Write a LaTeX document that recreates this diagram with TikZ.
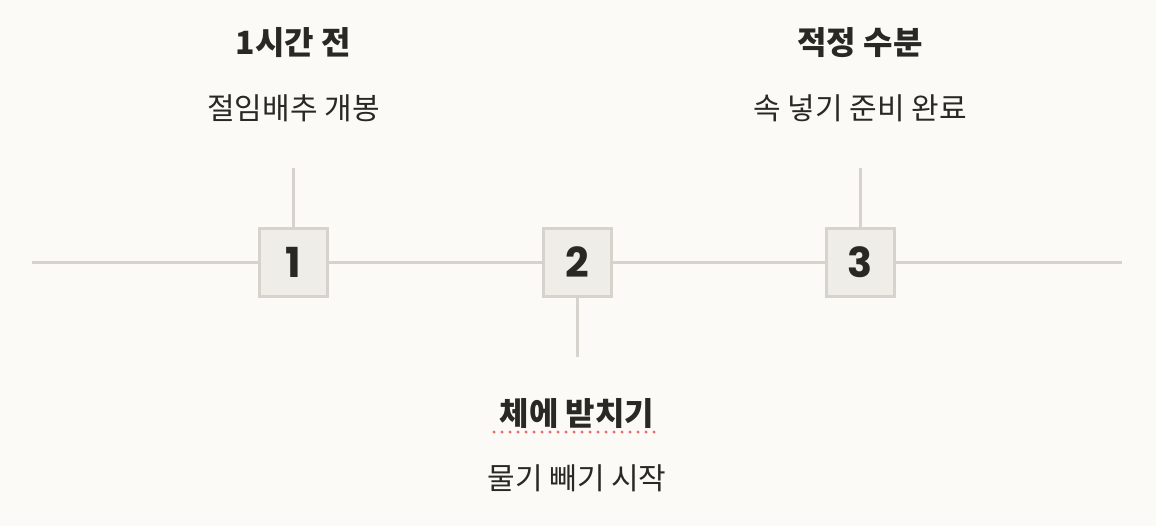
\documentclass[tikz,border=0pt]{standalone}
\usepackage{fontspec}
\newfontfamily\kofont{Noto Sans CJK KR}
\newfontfamily\numfont{Poppins}
\definecolor{bgcol}{HTML}{FBFAF7}
\definecolor{linecol}{HTML}{D6D3CC}
\definecolor{boxcol}{HTML}{EFEDE8}
\definecolor{inkcol}{HTML}{2A2823}
\definecolor{markcol}{HTML}{EC6F68}
\begin{document}
\begin{tikzpicture}[x=0.75pt,y=-0.75pt,
    rail/.style={draw=linecol, line width=2.25pt},
    stepbox/.style={draw=linecol, fill=boxcol, line width=2.25pt, minimum size=51pt, inner sep=0pt,
        text=inkcol, font=\numfont\bfseries\fontsize{31}{31}\selectfont},
    title/.style={text=inkcol, font=\kofont\bfseries\fontsize{24}{28}\selectfont},
    note/.style={text=inkcol, font=\kofont\fontsize{22.5}{26}\selectfont}]
    % Background
    \fill[bgcol] (0,0) rectangle (1156,526);
    \useasboundingbox (0,0) rectangle (1156,526);
    % Timeline
    \coordinate (start) at (32,262.5);
    \coordinate (end) at (1122,262.5);
    \node[stepbox] (n1) at (293.5,262.5) {1};
    \node[stepbox] (n2) at (577,262.5) {2};
    \node[stepbox] (n3) at (860,262.5) {3};
    \draw[rail] (start) -- (n1);
    \draw[rail] (n1) -- (n2);
    \draw[rail] (n2) -- (n3);
    \draw[rail] (n3) -- (end);
    % Ticks
    \coordinate (t1) at (293.5,168);
    \coordinate (t2) at (577,357);
    \coordinate (t3) at (860,168);
    \draw[rail] (n1.north) -- (t1);
    \draw[rail] (n2.south) -- (t2);
    \draw[rail] (n3.north) -- (t3);
    % Labels
    \node[title] (h1) at (293.5,43) {1시간 전};
    \node[note] (d1) at (293.5,108) {절임배추 개봉};
    \node[title] (h2) at (577,413) {체에 받치기};
    \node[note] (d2) at (577,478) {물기 빼기 시작};
    \node[title] (h3) at (860,43) {적정 수분};
    \node[note] (d3) at (860,108) {속 넣기 준비 완료};
    % Spelling mark
    \coordinate (m1) at (494,432);
    \coordinate (m2) at (657,432);
    \draw[markcol, line width=2.6pt, line cap=round, dash pattern=on 0pt off 6pt] (m1) -- (m2);
\end{tikzpicture}
\end{document}
